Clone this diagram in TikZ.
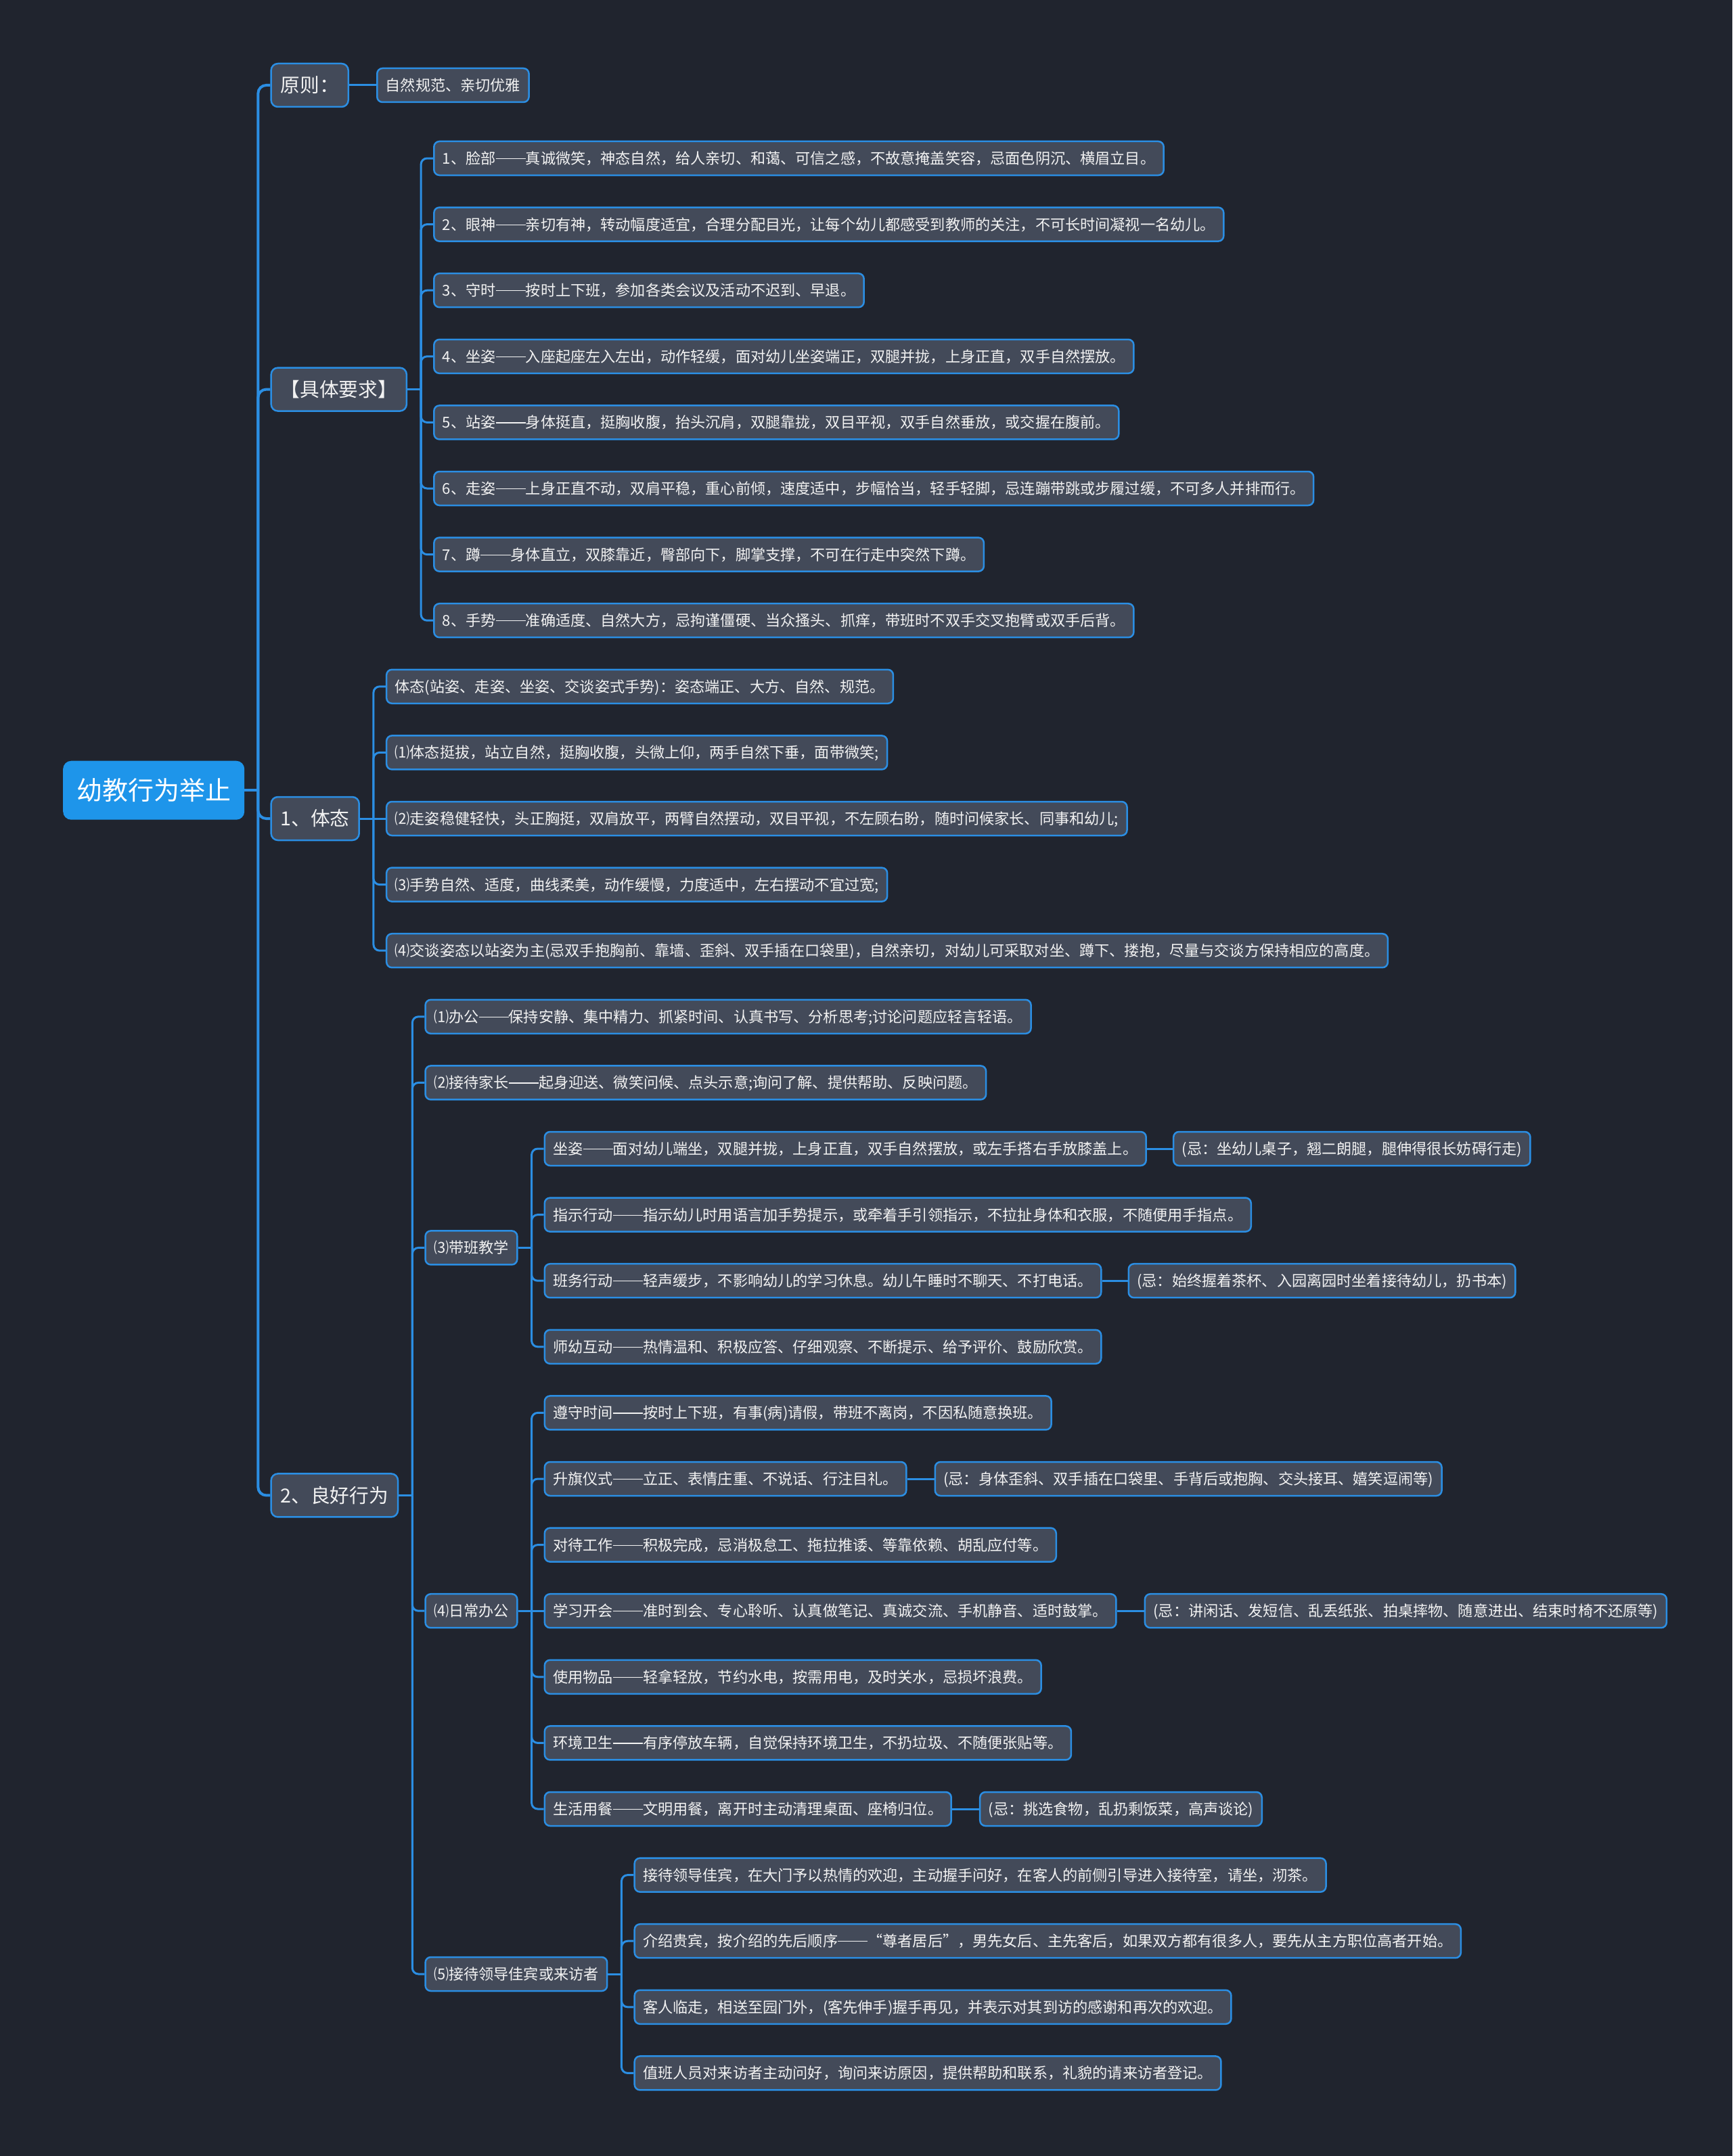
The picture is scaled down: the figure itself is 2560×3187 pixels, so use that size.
\documentclass[tikz,border=0pt]{standalone}
\usepackage{fontspec}
\newfontfamily\cjk{Noto Sans CJK SC}
\usetikzlibrary{calc}
\pgfdeclarelayer{back}
\pgfdeclarelayer{conns}
\pgfsetlayers{back,conns,main}
\definecolor{bgcol}{HTML}{20242E}
\definecolor{nodefill}{HTML}{434A59}
\definecolor{edgecol}{HTML}{2B8EE3}
\definecolor{rootfill}{HTML}{1E95EA}
\definecolor{txt}{HTML}{F2F2F2}
\newcommand{\zdash}{\rule[0.33em]{2em}{0.055em}}
\tikzset{
  basebox/.style={draw=edgecol, text=txt, fill=nodefill, line width=2.5pt, inner ysep=0pt},
  rootbox/.style={fill=rootfill, draw=none, text=white, rounded corners=12pt, minimum height=87pt, inner xsep=20pt, font=\cjk\fontsize{38}{44}\selectfont, text height=33.4pt, text depth=4.6pt},
  topicbox/.style={basebox, rounded corners=10pt, minimum height=64pt, inner xsep=14pt, font=\cjk\fontsize{28.7}{34}\selectfont, text height=25.3pt, text depth=3.4pt},
  leafbox/.style={basebox, rounded corners=8pt, minimum height=50pt, inner xsep=12.5pt, font=\cjk\fontsize{22.15}{26}\selectfont, text height=19.5pt, text depth=2.6pt},
  conn/.style={draw=edgecol, line width=3pt, rounded corners=9pt},
  connroot/.style={draw=edgecol, line width=4pt, rounded corners=12pt},
}
\begin{document}
\begin{tikzpicture}[x=1pt,y=-1pt]
\begin{pgfonlayer}{back}
\fill[bgcol] (0,0) rectangle (2560,3187);
\end{pgfonlayer}
\useasboundingbox (0,0) rectangle (2560,3187);

% root
\node[rootbox, anchor=west] (root) at (93,1168.2) {幼教行为举止};
\coordinate (rootB) at ($(root.east)+(20,0)$);
\path (rootB) ++(18,0) coordinate (rootK);

% level 1
\node[topicbox, anchor=west] (yz) at (rootK |- 0,126) {原则：};
\node[topicbox, anchor=west] (jt) at (rootK |- 0,575.6) {【具体要求】};
\node[topicbox, anchor=west] (tt) at (rootK |- 0,1210) {1、体态};
\node[topicbox, anchor=west] (lh) at (rootK |- 0,2210.4) {2、良好行为};

\node[leafbox, anchor=west] (yz1) at ($(yz.east)+(40,0)$) {自然规范、亲切优雅};

% 具体要求
\coordinate (jtB) at ($(jt.east)+(20,0)$);
\path (jtB) ++(18,0) coordinate (jtK);
\node[leafbox, anchor=west] (jt1) at (jtK |- 0,234) {1、脸部\zdash 真诚微笑，神态自然，给人亲切、和蔼、可信之感，不故意掩盖笑容，忌面色阴沉、横眉立目。};
\node[leafbox, anchor=west] (jt2) at (jtK |- 0,331.6) {2、眼神\zdash 亲切有神，转动幅度适宜，合理分配目光，让每个幼儿都感受到教师的关注，不可长时间凝视一名幼儿。};
\node[leafbox, anchor=west] (jt3) at (jtK |- 0,429.2) {3、守时\zdash 按时上下班，参加各类会议及活动不迟到、早退。};
\node[leafbox, anchor=west] (jt4) at (jtK |- 0,526.8) {4、坐姿\zdash 入座起座左入左出，动作轻缓，面对幼儿坐姿端正，双腿并拢，上身正直，双手自然摆放。};
\node[leafbox, anchor=west] (jt5) at (jtK |- 0,624.4) {5、站姿\zdash 身体挺直，挺胸收腹，抬头沉肩，双腿靠拢，双目平视，双手自然垂放，或交握在腹前。};
\node[leafbox, anchor=west] (jt6) at (jtK |- 0,722) {6、走姿\zdash 上身正直不动，双肩平稳，重心前倾，速度适中，步幅恰当，轻手轻脚，忌连蹦带跳或步履过缓，不可多人并排而行。};
\node[leafbox, anchor=west] (jt7) at (jtK |- 0,819.6) {7、蹲\zdash 身体直立，双膝靠近，臀部向下，脚掌支撑，不可在行走中突然下蹲。};
\node[leafbox, anchor=west] (jt8) at (jtK |- 0,917.2) {8、手势\zdash 准确适度、自然大方，忌拘谨僵硬、当众搔头、抓痒，带班时不双手交叉抱臂或双手后背。};

% 体态
\coordinate (ttB) at ($(tt.east)+(20,0)$);
\path (ttB) ++(18,0) coordinate (ttK);
\node[leafbox, anchor=west] (tt1) at (ttK |- 0,1014.8) {体态(站姿、走姿、坐姿、交谈姿式手势)：姿态端正、大方、自然、规范。};
\node[leafbox, anchor=west] (tt2) at (ttK |- 0,1112.4) {⑴体态挺拔，站立自然，挺胸收腹，头微上仰，两手自然下垂，面带微笑;};
\node[leafbox, anchor=west] (tt3) at (ttK |- 0,1210) {⑵走姿稳健轻快，头正胸挺，双肩放平，两臂自然摆动，双目平视，不左顾右盼，随时问候家长、同事和幼儿;};
\node[leafbox, anchor=west] (tt4) at (ttK |- 0,1307.6) {⑶手势自然、适度，曲线柔美，动作缓慢，力度适中，左右摆动不宜过宽;};
\node[leafbox, anchor=west] (tt5) at (ttK |- 0,1405.2) {⑷交谈姿态以站姿为主(忌双手抱胸前、靠墙、歪斜、双手插在口袋里)，自然亲切，对幼儿可采取对坐、蹲下、搂抱，尽量与交谈方保持相应的高度。};

% 良好行为
\coordinate (lhB) at ($(lh.east)+(20,0)$);
\path (lhB) ++(18,0) coordinate (lhK);
\node[leafbox, anchor=west] (lh1) at (lhK |- 0,1502.8) {⑴办公\zdash 保持安静、集中精力、抓紧时间、认真书写、分析思考;讨论问题应轻言轻语。};
\node[leafbox, anchor=west] (lh2) at (lhK |- 0,1600.4) {⑵接待家长\zdash 起身迎送、微笑问候、点头示意;询问了解、提供帮助、反映问题。};
\node[leafbox, anchor=west] (lh3) at (lhK |- 0,1844.4) {⑶带班教学};
\node[leafbox, anchor=west] (lh4) at (lhK |- 0,2381.2) {⑷日常办公};
\node[leafbox, anchor=west] (lh5) at (lhK |- 0,2918) {⑸接待领导佳宾或来访者};

% 带班教学
\coordinate (lh3B) at ($(lh3.east)+(20,0)$);
\path (lh3B) ++(18,0) coordinate (lh3K);
\node[leafbox, anchor=west] (b1) at (lh3K |- 0,1698) {坐姿\zdash 面对幼儿端坐，双腿并拢，上身正直，双手自然摆放，或左手搭右手放膝盖上。};
\node[leafbox, anchor=west] (b2) at (lh3K |- 0,1795.6) {指示行动\zdash 指示幼儿时用语言加手势提示，或牵着手引领指示，不拉扯身体和衣服，不随便用手指点。};
\node[leafbox, anchor=west] (b3) at (lh3K |- 0,1893.2) {班务行动\zdash 轻声缓步，不影响幼儿的学习休息。幼儿午睡时不聊天、不打电话。};
\node[leafbox, anchor=west] (b4) at (lh3K |- 0,1990.8) {师幼互动\zdash 热情温和、积极应答、仔细观察、不断提示、给予评价、鼓励欣赏。};
\node[leafbox, anchor=west] (b1n) at ($(b1.east)+(38,0)$) {(忌：坐幼儿桌子，翘二朗腿，腿伸得很长妨碍行走)};
\node[leafbox, anchor=west] (b3n) at ($(b3.east)+(38,0)$) {(忌：始终握着茶杯、入园离园时坐着接待幼儿，扔书本)};

% 日常办公
\coordinate (lh4B) at ($(lh4.east)+(20,0)$);
\path (lh4B) ++(18,0) coordinate (lh4K);
\node[leafbox, anchor=west] (c1) at (lh4K |- 0,2088.4) {遵守时间\zdash 按时上下班，有事(病)请假，带班不离岗，不因私随意换班。};
\node[leafbox, anchor=west] (c2) at (lh4K |- 0,2186) {升旗仪式\zdash 立正、表情庄重、不说话、行注目礼。};
\node[leafbox, anchor=west] (c3) at (lh4K |- 0,2283.6) {对待工作\zdash 积极完成，忌消极怠工、拖拉推诿、等靠依赖、胡乱应付等。};
\node[leafbox, anchor=west] (c4) at (lh4K |- 0,2381.2) {学习开会\zdash 准时到会、专心聆听、认真做笔记、真诚交流、手机静音、适时鼓掌。};
\node[leafbox, anchor=west] (c5) at (lh4K |- 0,2478.8) {使用物品\zdash 轻拿轻放，节约水电，按需用电，及时关水，忌损坏浪费。};
\node[leafbox, anchor=west] (c6) at (lh4K |- 0,2576.4) {环境卫生\zdash 有序停放车辆，自觉保持环境卫生，不扔垃圾、不随便张贴等。};
\node[leafbox, anchor=west] (c7) at (lh4K |- 0,2674) {生活用餐\zdash 文明用餐，离开时主动清理桌面、座椅归位。};
\node[leafbox, anchor=west] (c2n) at ($(c2.east)+(40,0)$) {(忌：身体歪斜、双手插在口袋里、手背后或抱胸、交头接耳、嬉笑逗闹等)};
\node[leafbox, anchor=west] (c4n) at ($(c4.east)+(40,0)$) {(忌：讲闲话、发短信、乱丢纸张、拍桌摔物、随意进出、结束时椅不还原等)};
\node[leafbox, anchor=west] (c7n) at ($(c7.east)+(40,0)$) {(忌：挑选食物，乱扔剩饭菜，高声谈论)};

% 接待领导佳宾或来访者
\coordinate (lh5B) at ($(lh5.east)+(20,0)$);
\path (lh5B) ++(18,0) coordinate (lh5K);
\node[leafbox, anchor=west] (d1) at (lh5K |- 0,2771.6) {接待领导佳宾，在大门予以热情的欢迎，主动握手问好，在客人的前侧引导进入接待室，请坐，沏茶。};
\node[leafbox, anchor=west] (d2) at (lh5K |- 0,2869.2) {介绍贵宾，按介绍的先后顺序\zdash “尊者居后”，男先女后、主先客后，如果双方都有很多人，要先从主方职位高者开始。};
\node[leafbox, anchor=west] (d3) at (lh5K |- 0,2966.8) {客人临走，相送至园门外，(客先伸手)握手再见，并表示对其到访的感谢和再次的欢迎。};
\node[leafbox, anchor=west] (d4) at (lh5K |- 0,3064.4) {值班人员对来访者主动问好，询问来访原因，提供帮助和联系，礼貌的请来访者登记。};

\begin{pgfonlayer}{conns}
\draw[connroot] (root.east) -- (rootB);
\foreach \n in {yz,jt,tt,lh} \draw[connroot] (rootB) |- (\n.west);
\draw[conn] (yz.east) -- (yz1.west);
\draw[conn] (jt.east) -- (jtB);
\foreach \i in {1,...,8} \draw[conn] (jtB) |- (jt\i.west);
\draw[conn] (tt.east) -- (ttB);
\foreach \i in {1,2,4,5} \draw[conn] (ttB) |- (tt\i.west);
\draw[conn] (ttB) -- (tt3.west);
\draw[conn] (lh.east) -- (lhB);
\foreach \i in {1,...,5} \draw[conn] (lhB) |- (lh\i.west);
\draw[conn] (lh3.east) -- (lh3B);
\foreach \i in {1,...,4} \draw[conn] (lh3B) |- (b\i.west);
\draw[conn] (b1.east) -- (b1n.west);
\draw[conn] (b3.east) -- (b3n.west);
\draw[conn] (lh4.east) -- (lh4B);
\foreach \i in {1,2,3,5,6,7} \draw[conn] (lh4B) |- (c\i.west);
\draw[conn] (lh4B) -- (c4.west);
\draw[conn] (c2.east) -- (c2n.west);
\draw[conn] (c4.east) -- (c4n.west);
\draw[conn] (c7.east) -- (c7n.west);
\draw[conn] (lh5.east) -- (lh5B);
\foreach \i in {1,...,4} \draw[conn] (lh5B) |- (d\i.west);
\end{pgfonlayer}
\end{tikzpicture}
\end{document}
